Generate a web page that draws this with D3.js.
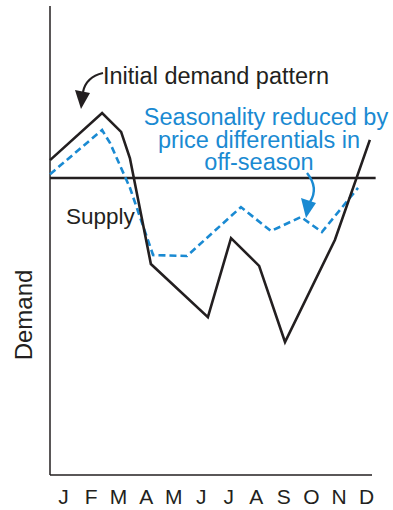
<!DOCTYPE html>
<html><head><meta charset="utf-8">
<script src="https://cdn.jsdelivr.net/npm/d3@7"></script>
<style>
html,body{margin:0;padding:0;background:#fff;}
text{font-family:"Liberation Sans",Arial,Helvetica,sans-serif;}
</style></head>
<body>
<svg id="chart" width="393" height="510"></svg>
<script>
// ---- data ----
const months = ["J","F","M","A","M","J","J","A","S","O","N","D"];
// initial demand pattern (x = month position, v = demand level)
const demandX = [-0.47, 1.42, 2.11, 2.43, 3.19, 5.26, 6.10, 7.12, 8.06, 9.87, 11.14];
const demandV = [67.0, 77.0, 73.0, 67.4, 44.9, 33.6, 50.4, 44.5, 28.3, 50.0, 71.3];
// seasonality reduced by price differentials
const reducedX = [-0.47, 1.42, 1.71, 2.43, 3.27, 4.50, 6.46, 7.55, 8.64, 9.40, 10.71];
const reducedV = [64.0, 73.4, 70.6, 61.1, 46.8, 46.6, 57.0, 51.9, 54.9, 51.7, 61.1];
const supplyLevel = 63.2;
const supplyRange = [-0.47, 11.35];
const blueLines = ["Seasonality reduced by", "price differentials in", "off-season"];

const BLACK = "#231f20", BLUE = "#1a8ad2";
const svg = d3.select("#chart");
const x = d3.scaleLinear().domain([0, 11]).range([63, 366]);
const y = d3.scaleLinear().domain([0, 100]).range([475, 5]);

// axes lines
svg.append("line").attr("x1", 50).attr("x2", 50).attr("y1", y(99.8)).attr("y2", y(0))
  .attr("stroke", BLACK).attr("stroke-width", 1.5);
svg.append("line").attr("x1", 50).attr("x2", 372).attr("y1", y(0)).attr("y2", y(0))
  .attr("stroke", BLACK).attr("stroke-width", 1.5);

// month labels via axis
const xAxis = d3.axisBottom(x).tickValues(d3.range(12)).tickFormat(i => months[i]).tickSize(0).tickPadding(10);
const gx = svg.append("g").attr("transform", `translate(0,${y(0)})`).call(xAxis);
gx.select(".domain").remove();
gx.selectAll("text").attr("font-size", 21).attr("fill", BLACK)
  .style("font-family", '"Liberation Sans",Arial,sans-serif').attr("dy", "0.9em");

// supply line
svg.append("line").attr("x1", x(supplyRange[0])).attr("x2", x(supplyRange[1]))
  .attr("y1", y(supplyLevel)).attr("y2", y(supplyLevel))
  .attr("stroke", BLACK).attr("stroke-width", 2.5);

const line = d3.line().x(d => x(d[0])).y(d => y(d[1]));
// reduced (blue dashed)
svg.append("path").datum(reducedX.map((d, i) => [d, reducedV[i]]))
  .attr("d", line).attr("fill", "none").attr("stroke", BLUE)
  .attr("stroke-width", 2.6).attr("stroke-dasharray", "7,4");
// demand (black)
svg.append("path").datum(demandX.map((d, i) => [d, demandV[i]]))
  .attr("d", line).attr("fill", "none").attr("stroke", BLACK)
  .attr("stroke-width", 2.6).attr("stroke-linejoin", "miter");

// annotations
svg.append("text").attr("x", 103).attr("y", 84).attr("font-size", 23.5).attr("fill", BLACK)
  .text("Initial demand pattern");
svg.append("path").attr("d", "M103,73 Q86,77 83,92").attr("fill", "none")
  .attr("stroke", BLACK).attr("stroke-width", 2.2);
svg.append("path").attr("d", "M75,90 L90,93 L81,109 Z").attr("fill", BLACK);

const centers = [266, 259, 259], baselines = [125, 147.5, 170];
const bt = svg.append("text").attr("text-anchor", "middle").attr("font-size", 23.5).attr("fill", BLUE);
blueLines.forEach((t, i) => {
  bt.append("tspan").attr("x", centers[i]).attr("y", baselines[i]).text(t);
});
svg.append("path").attr("d", "M307,173 Q319,188 310,202").attr("fill", "none")
  .attr("stroke", BLUE).attr("stroke-width", 2.4);
svg.append("path").attr("d", "M301,198 L316,203 L306,218 Z").attr("fill", BLUE);

svg.append("text").attr("x", 66).attr("y", 224).attr("font-size", 22.5).attr("fill", BLACK).text("Supply");
svg.append("text").attr("transform", "translate(32,315) rotate(-90)").attr("text-anchor", "middle")
  .attr("font-size", 24).attr("fill", BLACK).text("Demand");
</script>
</body></html>
